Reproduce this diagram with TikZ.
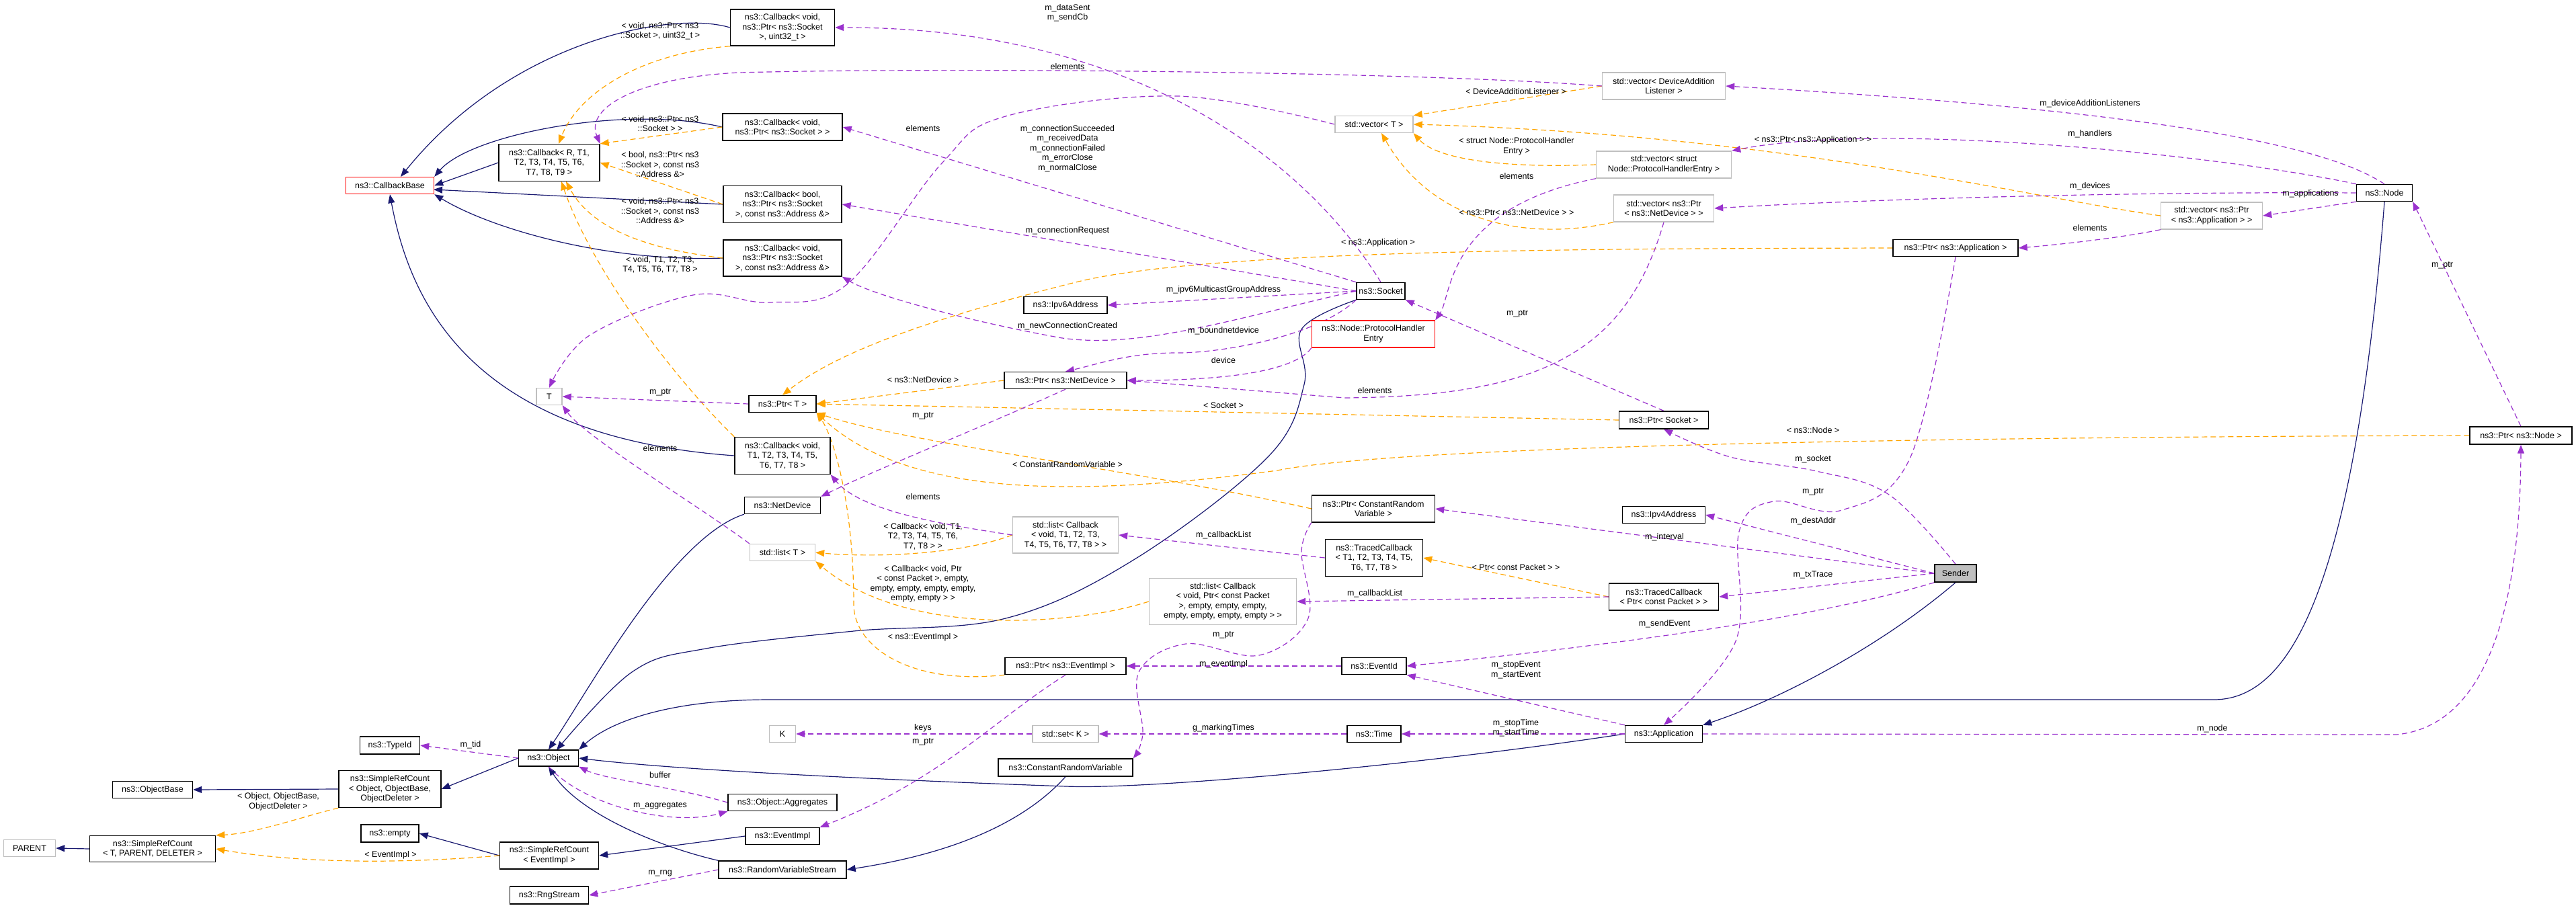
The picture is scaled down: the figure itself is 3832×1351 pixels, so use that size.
\documentclass[tikz,border=0pt]{standalone}
\usepackage{fontspec}
\setmainfont{Liberation Sans}
\usetikzlibrary{arrows.meta,backgrounds}
\definecolor{navyc}{HTML}{191970}
\definecolor{orangec}{HTML}{FFA500}
\definecolor{purc}{HTML}{9A32CD}
\definecolor{grayb}{HTML}{BFBFBF}
\tikzset{
 every node/.style={font=\fontsize{12.5}{14.5}\selectfont, align=center, inner sep=2pt},
 box/.style={draw=black, line width=1.4pt, fill=white},
 gbox/.style={draw=grayb, line width=1.4pt, fill=white},
 rbox/.style={draw=red, line width=1.4pt, fill=white},
 inh/.style={draw=navyc, line width=1.2pt, -{Triangle[length=13pt,width=10pt]}},
 tpl/.style={draw=orangec, line width=1.2pt, dash pattern=on 8pt off 5pt, -{Triangle[length=13pt,width=10pt]}},
 usee/.style={draw=purc, line width=1.2pt, dash pattern=on 8pt off 5pt, -{Triangle[length=13pt,width=10pt]}},
 lbl/.style={fill=none}
}
\newcommand{\bx}[7]{\node[#1, minimum width=#5pt, minimum height=#6pt] (#2) at (#3,#4) {#7};}
\begin{document}
\begin{tikzpicture}[x=1pt,y=-1pt]
\useasboundingbox (0,0) rectangle (3832,1351);
% nodes
\bx{rbox}{cbbase}{580}{276}{131}{25}{ns3::CallbackBase}
\bx{box}{cbR}{817}{242}{150}{55}{ns3::Callback< R, T1,\\T2, T3, T4, T5, T6,\\T7, T8, T9 >}
\bx{box}{cb1}{1164}{41}{155}{54}{ns3::Callback< void,\\ns3::Ptr< ns3::Socket\\>, uint32\_t >}
\bx{box}{cb2}{1164}{189}{178}{40}{ns3::Callback< void,\\ns3::Ptr< ns3::Socket > >}
\bx{box}{cb3}{1164}{304}{176}{55}{ns3::Callback< bool,\\ns3::Ptr< ns3::Socket\\>, const ns3::Address \&>}
\bx{box}{cb4}{1164}{384}{176}{54}{ns3::Callback< void,\\ns3::Ptr< ns3::Socket\\>, const ns3::Address \&>}
\bx{box}{cbT8}{1164}{678}{142}{55}{ns3::Callback< void,\\T1, T2, T3, T4, T5,\\T6, T7, T8 >}
\bx{gbox}{T}{817}{590}{38}{25}{T}
\bx{box}{ptrT}{1164}{601}{100}{25}{ns3::Ptr< T >}
\bx{box}{netdev}{1164}{752}{113}{25}{ns3::NetDevice}
\bx{gbox}{listT}{1164}{822}{97}{25}{std::list< T >}
\bx{gbox}{listCb}{1585}{796}{157}{54}{std::list< Callback\\< void, T1, T2, T3,\\T4, T5, T6, T7, T8 > >}
\bx{gbox}{listCbP}{1819}{895}{219}{69}{std::list< Callback\\< void, Ptr< const Packet\\>, empty, empty, empty,\\empty, empty, empty, empty > >}
\bx{box}{ptrND}{1585}{566}{182}{25}{ns3::Ptr< ns3::NetDevice >}
\bx{box}{ipv6}{1585}{454}{124}{25}{ns3::Ipv6Address}
\bx{box}{socket}{2054}{433}{72}{25}{ns3::Socket}
\bx{rbox}{phe}{2043}{497}{183}{40}{ns3::Node::ProtocolHandler\\Entry}
\bx{gbox}{vecT}{2044}{185}{116}{25}{std::vector< T >}
\bx{gbox}{vecDAL}{2475}{128}{183}{40}{std::vector< DeviceAddition\\Listener >}
\bx{gbox}{vecPHE}{2475}{245}{201}{40}{std::vector< struct\\Node::ProtocolHandlerEntry >}
\bx{gbox}{vecND}{2475}{310}{149}{40}{std::vector< ns3::Ptr\\< ns3::NetDevice > >}
\bx{box}{ptrApp}{2909}{369}{186}{25}{ns3::Ptr< ns3::Application >}
\bx{box}{ptrSocket}{2475}{625}{133}{26}{ns3::Ptr< Socket >}
\bx{box}{node}{3547}{287}{83}{25}{ns3::Node}
\bx{gbox}{vecApp}{3290}{321}{151}{40}{std::vector< ns3::Ptr\\< ns3::Application > >}
\bx{box}{ptrNode}{3750}{648}{152}{26}{ns3::Ptr< ns3::Node >}
\bx{box}{ptrCRV}{2043}{757}{183}{40}{ns3::Ptr< ConstantRandom\\Variable >}
\bx{box}{tcT}{2044}{830}{145}{55}{ns3::TracedCallback\\< T1, T2, T3, T4, T5,\\T6, T7, T8 >}
\bx{box}{tcP}{2475}{888}{163}{40}{ns3::TracedCallback\\< Ptr< const Packet > >}
\bx{box}{ipv4}{2475}{766}{123}{25}{ns3::Ipv4Address}
\node[draw=black, line width=1.4pt, fill=grayb, minimum width=62pt, minimum height=26pt] (sender) at (2909,853) {Sender};
\bx{box}{eventid}{2044}{991}{96}{25}{ns3::EventId}
\bx{box}{time}{2044}{1092}{80}{25}{ns3::Time}
\bx{box}{app}{2475}{1092}{115}{25}{ns3::Application}
\bx{box}{ptrEI}{1585}{991}{180}{25}{ns3::Ptr< ns3::EventImpl >}
\bx{gbox}{K}{1164}{1092}{39}{25}{K}
\bx{gbox}{setK}{1585}{1092}{98}{25}{std::set< K >}
\bx{box}{crv}{1585}{1142}{200}{26}{ns3::ConstantRandomVariable}
\bx{box}{aggr}{1164}{1194}{162}{25}{ns3::Object::Aggregates}
\bx{box}{eventimpl}{1164}{1244}{110}{25}{ns3::EventImpl}
\bx{box}{rvs}{1164}{1294}{190}{26}{ns3::RandomVariableStream}
\bx{box}{object}{816}{1128}{89}{24}{ns3::Object}
\bx{box}{typeid}{580}{1109}{89}{26}{ns3::TypeId}
\bx{box}{srcObj}{580}{1174}{152}{55}{ns3::SimpleRefCount\\< Object, ObjectBase,\\ObjectDeleter >}
\bx{box}{objbase}{227}{1175}{119}{25}{ns3::ObjectBase}
\bx{box}{srcT}{227}{1263}{187}{39}{ns3::SimpleRefCount\\< T, PARENT, DELETER >}
\bx{gbox}{parent}{44}{1262}{77}{25}{PARENT}
\bx{box}{empty}{580}{1240}{86}{26}{ns3::empty}
\bx{box}{srcEI}{817}{1273}{147}{40}{ns3::SimpleRefCount\\< EventImpl >}
\bx{box}{rng}{817}{1332}{117}{26}{ns3::RngStream}

\begin{pgfonlayer}{background}
% ---- inheritance ----
\draw[inh] (cb1.west) .. controls (1000,15) and (760,60) .. (596,263);
\draw[inh] (cb2.west) .. controls (930,155) and (700,200) .. (cbbase.north east);
\draw[inh] (cbR.west) -- (cbbase.east);
\draw[inh] (cb3.west) -- (645,282);
\draw[inh] (cb4.west) .. controls (900,390) and (730,340) .. (cbbase.south east);
\draw[inh] (cbT8.west) .. controls (700,650) and (610,450) .. (cbbase.south);
\draw[inh] (netdev.south west) .. controls (1000,800) and (880,1020) .. (object.north);
\draw[inh] plot[smooth, tension=0.6] coordinates {(socket.south west) (1936,490) (1940,572) (1886,680) (1688,832) (1496,920) (1270,939) (1050,965) (940,1000) (828,1116)};
\draw[inh] (node.south) .. controls (3500,900) and (3400,1041) .. (3293,1041) -- (1146,1041) .. controls (980,1041) and (900,1080) .. (object.north east);
\draw[inh] (app.west) .. controls (2100,1140) and (1700,1175) .. (1586,1170) .. controls (1300,1160) and (1000,1145) .. (object.east);
\draw[inh] (sender.south) .. controls (2800,960) and (2650,1040) .. (app.north east);
\draw[inh] (crv.south) .. controls (1500,1250) and (1350,1280) .. (rvs.east);
\draw[inh] (rvs.north west) .. controls (980,1260) and (860,1210) .. (object.south);
\draw[inh] (eventimpl.west) -- (srcEI.east);
\draw[inh] (srcEI.west) -- (empty.east);
\draw[inh] (object.west) -- (srcObj.east);
\draw[inh] (srcObj.west) -- (objbase.east);
\draw[inh] (srcT.west) -- (parent.east);
% ---- templates ----
\draw[tpl] (cb1.south west) .. controls (950,80) and (860,140) .. (831,214);
\draw[tpl] (cb2.west) -- (cbR.north east);
\draw[tpl] (cb3.west) -- (cbR.east);
\draw[tpl] (cb4.west) .. controls (960,370) and (880,340) .. (842,270);
\draw[tpl] (cbT8.north west) .. controls (1000,560) and (880,400) .. (835,270);
\draw[tpl] (vecDAL.west) -- (vecT.north east);
\draw[tpl] (vecPHE.west) .. controls (2250,250) and (2140,240) .. (vecT.south east);
\draw[tpl] (vecND.south west) .. controls (2270,360) and (2130,330) .. (2055,198);
\draw[tpl] (vecApp.west) .. controls (3000,290) and (2640,200) .. (vecT.east);
\draw[tpl] (ptrApp.west) .. controls (2400,370) and (1800,370) .. (1600,420) .. controls (1400,470) and (1250,520) .. (ptrT.north);
\draw[tpl] (ptrND.west) -- (ptrT.east);
\draw[tpl] (ptrSocket.west) -- (ptrT.east);
\draw[tpl] (ptrCRV.west) .. controls (1700,700) and (1350,660) .. (ptrT.south east);
\draw[tpl] (ptrNode.west) .. controls (3000,650) and (2100,660) .. (1900,700) .. controls (1600,740) and (1350,740) .. (ptrT.south east);
\draw[tpl] (ptrEI.south west) .. controls (1350,1020) and (1270,960) .. (1270,900) .. controls (1270,750) and (1240,650) .. (ptrT.south east);
\draw[tpl] (listCb.west) .. controls (1430,825) and (1300,830) .. (listT.east);
\draw[tpl] (listCbP.west) .. controls (1600,930) and (1350,950) .. (listT.south east);
\draw[tpl] (tcP.west) -- (tcT.east);
\draw[tpl] (srcObj.south west) .. controls (450,1215) and (380,1240) .. (srcT.north east);
\draw[tpl] (srcEI.west) .. controls (600,1285) and (450,1285) .. (srcT.east);
% ---- usage ----
\draw[usee] (socket.north) .. controls (1950,250) and (1700,40) .. (cb1.east);
\draw[usee] (socket.north west) -- (cb2.east);
\draw[usee] (socket.west) -- (cb3.east);
\draw[usee] (socket.west) .. controls (1850,470) and (1700,520) .. (1580,503) .. controls (1450,480) and (1300,440) .. (cb4.south east);
\draw[usee] (socket.west) -- (ipv6.east);
\draw[usee] (socket.south west) .. controls (1960,500) and (1820,525) .. (1752,525) .. controls (1680,525) and (1640,540) .. (ptrND.north);
\draw[usee] (phe.south west) .. controls (1920,560) and (1780,566) .. (ptrND.east);
\draw[usee] (vecND.south) .. controls (2420,520) and (2300,590) .. (2000,592) -- (ptrND.east);
\draw[usee] (vecPHE.south west) .. controls (2150,310) and (2160,440) .. (phe.north east);
\draw[usee] (vecDAL.west) .. controls (2100,106) and (1400,100) .. (1100,108) .. controls (950,115) and (870,160) .. (cbR.north east);
\draw[usee] plot[smooth, tension=0.6] coordinates {(vecT.west) (1752,143) (1496,173) (1401,243) (1260,423) (1146,450) (1031,439) (877,499) (T.north)};
\draw[usee] (ptrT.west) -- (T.east);
\draw[usee] (listT.north west) .. controls (1050,760) and (870,650) .. (T.south east);
\draw[usee] (ptrND.south) .. controls (1450,640) and (1300,700) .. (netdev.north east);
\draw[usee] (listCb.west) .. controls (1400,780) and (1280,760) .. (cbT8.south east);
\draw[usee] (tcT.west) -- (listCb.east);
\draw[usee] (tcP.west) -- (listCbP.east);
\draw[usee] plot[smooth, tension=0.6] coordinates {(ptrCRV.south west) (1936,821) (1946,920) (1873,975) (1764,958) (1694,1000) (1700,1091) (crv.north east)};
\draw[usee] (eventid.west) -- (ptrEI.east);
\draw[usee] (ptrEI.south) .. controls (1480,1070) and (1400,1160) .. (eventimpl.north east);
\draw[usee] (setK.west) -- (K.east);
\draw[usee] (time.west) -- (setK.east);
\draw[usee] (object.west) -- (typeid.east);
\draw[usee] (aggr.west) .. controls (1000,1170) and (900,1160) .. (object.south east);
\draw[usee] (object.south) .. controls (870,1200) and (1000,1230) .. (aggr.south west);
\draw[usee] (rvs.west) -- (rng.east);
\draw[usee] (node.north) .. controls (3480,230) and (3300,170) .. (vecDAL.east);
\draw[usee] (node.north west) .. controls (3300,230) and (2800,180) .. (vecPHE.north east);
\draw[usee] (node.west) .. controls (3200,285) and (2800,295) .. (vecND.east);
\draw[usee] (node.south west) -- (vecApp.east);
\draw[usee] (vecApp.south west) .. controls (3150,355) and (3050,365) .. (ptrApp.east);
\draw[usee] (ptrNode.north) -- (node.south east);
\draw[usee] (ptrSocket.north) -- (socket.south east);
\draw[usee] plot[smooth, tension=0.6] coordinates {(ptrApp.south) (2842,680) (2740,759) (2638,746) (2587,791) (2582,954) (app.north)};
\draw[usee] plot[smooth, tension=0.6] coordinates {(sender.north) (2810,736) (2702,701) (2574,680) (ptrSocket.south)};
\draw[usee] (sender.west) -- (ipv4.east);
\draw[usee] (sender.west) -- (ptrCRV.east);
\draw[usee] (sender.west) -- (tcP.east);
\draw[usee] (sender.south west) .. controls (2700,920) and (2400,960) .. (eventid.east);
\draw[usee] (app.north west) -- (eventid.south east);
\draw[usee] (app.west) -- (time.east);
\draw[usee] (app.east) -- (3565,1093) .. controls (3700,1080) and (3749,900) .. (ptrNode.south);
\end{pgfonlayer}
% ---- labels ----
\node[lbl] (l1) at (982,46) {< void, ns3::Ptr< ns3\\::Socket >, uint32\_t >};
\node[lbl] (l2) at (982,184) {< void, ns3::Ptr< ns3\\::Socket > >};
\node[lbl] (l3) at (982,245) {< bool, ns3::Ptr< ns3\\::Socket >, const ns3\\::Address \&>};
\node[lbl] (l4) at (982,314) {< void, ns3::Ptr< ns3\\::Socket >, const ns3\\::Address \&>};
\node[lbl] (l5) at (982,394) {< void, T1, T2, T3,\\T4, T5, T6, T7, T8 >};
\node[lbl] (l6) at (2255,136) {< DeviceAdditionListener >};
\node[lbl] (l7) at (2256,218) {< struct Node::ProtocolHandler\\Entry >};
\node[lbl] (l8) at (2256,316) {< ns3::Ptr< ns3::NetDevice > >};
\node[lbl] (l9) at (2697,208) {< ns3::Ptr< ns3::Application > >};
\node[lbl] (l10) at (2050,361) {< ns3::Application >};
\node[lbl] (l11) at (1373,565) {< ns3::NetDevice >};
\node[lbl] (l12) at (1820,603) {< Socket >};
\node[lbl] (l13) at (1588,691) {< ConstantRandomVariable >};
\node[lbl] (l14) at (1373,948) {< ns3::EventImpl >};
\node[lbl] (l15) at (2697,640) {< ns3::Node >};
\node[lbl] (l16) at (1373,798) {< Callback< void, T1,\\T2, T3, T4, T5, T6,\\T7, T8 > >};
\node[lbl] (l17) at (1373,869) {< Callback< void, Ptr\\< const Packet >, empty,\\empty, empty, empty, empty,\\empty, empty > >};
\node[lbl] (l18) at (2255,844) {< Ptr< const Packet > >};
\node[lbl] (l19) at (414,1193) {< Object, ObjectBase,\\ObjectDeleter >};
\node[lbl] (l20) at (581,1272) {< EventImpl >};
\node[lbl] (u1) at (1588,19) {m\_dataSent\\m\_sendCb};
\node[lbl] (u2) at (1588,221) {m\_connectionSucceeded\\m\_receivedData\\m\_connectionFailed\\m\_errorClose\\m\_normalClose};
\node[lbl] (u3) at (1588,343) {m\_connectionRequest};
\node[lbl] (u4) at (1588,485) {m\_newConnectionCreated};
\node[lbl] (u5) at (1820,431) {m\_ipv6MulticastGroupAddress};
\node[lbl] (u6) at (1820,492) {m\_boundnetdevice};
\node[lbl] (u7) at (1820,536) {device};
\node[lbl] (u8) at (2045,581) {elements};
\node[lbl] (u9) at (1588,99) {elements};
\node[lbl] (u10) at (1373,191) {elements};
\node[lbl] (u11) at (982,584) {m\_ptr};
\node[lbl] (u12) at (982,667) {elements};
\node[lbl] (u13) at (1373,619) {m\_ptr};
\node[lbl] (u14) at (1373,739) {elements};
\node[lbl] (u15) at (1820,796) {m\_callbackList};
\node[lbl] (u16) at (2045,883) {m\_callbackList};
\node[lbl] (u17) at (1820,945) {m\_ptr};
\node[lbl] (u18) at (1820,988) {m\_eventImpl};
\node[lbl] (u19) at (1373,1104) {m\_ptr};
\node[lbl] (u20) at (1373,1083) {keys};
\node[lbl] (u21) at (1820,1083) {g\_markingTimes};
\node[lbl] (u22) at (700,1108) {m\_tid};
\node[lbl] (u23) at (982,1153) {buffer};
\node[lbl] (u24) at (982,1199) {m\_aggregates};
\node[lbl] (u25) at (982,1299) {m\_rng};
\node[lbl] (u26) at (3109,154) {m\_deviceAdditionListeners};
\node[lbl] (u27) at (3109,199) {m\_handlers};
\node[lbl] (u28) at (3109,277) {m\_devices};
\node[lbl] (u29) at (3437,288) {m\_applications};
\node[lbl] (u30) at (3109,339) {elements};
\node[lbl] (u31) at (3633,395) {m\_ptr};
\node[lbl] (u32) at (2257,467) {m\_ptr};
\node[lbl] (u33) at (2697,732) {m\_ptr};
\node[lbl] (u34) at (2697,683) {m\_socket};
\node[lbl] (u35) at (2697,775) {m\_destAddr};
\node[lbl] (u36) at (2476,799) {m\_interval};
\node[lbl] (u37) at (2697,855) {m\_txTrace};
\node[lbl] (u38) at (2476,928) {m\_sendEvent};
\node[lbl] (u39) at (2255,997) {m\_stopEvent\\m\_startEvent};
\node[lbl] (u40) at (2255,1083) {m\_stopTime\\m\_startTime};
\node[lbl] (u41) at (3291,1084) {m\_node};
\node[lbl] (u42) at (2256,262) {elements};
\end{tikzpicture}
\end{document}
